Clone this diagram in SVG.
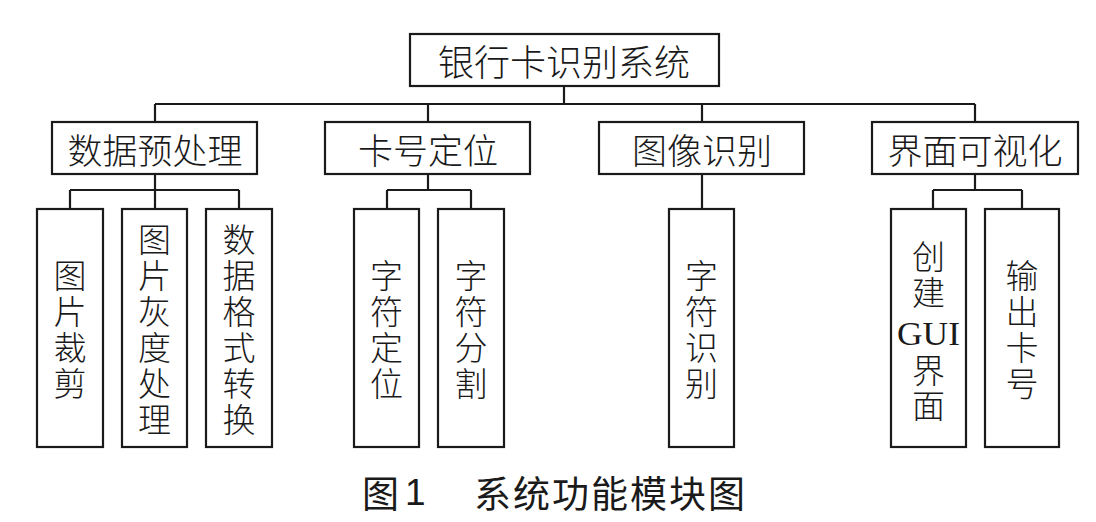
<svg xmlns="http://www.w3.org/2000/svg" width="1096" height="522" viewBox="0 0 1096 522">
<style>
  .box{fill:#fff;stroke:#1a1a1a;stroke-width:2.2}
  .ln{fill:none;stroke:#1a1a1a;stroke-width:2.2}
  .t{font-family:"Noto Sans CJK SC","Noto Sans",sans-serif;font-weight:300;fill:#1a1a1a;text-anchor:middle;dominant-baseline:central}
  .r{font-size:36px}
  .m{font-size:35px}
  .v{font-family:"Noto Sans CJK SC","Noto Sans",sans-serif;font-weight:300;fill:#1a1a1a;font-size:33px;writing-mode:vertical-rl;text-anchor:middle;letter-spacing:3px}
  .g{font-family:"Liberation Serif",serif;font-size:34px;fill:#1a1a1a;text-anchor:middle;dominant-baseline:central}
  .cap{font-family:"Noto Sans CJK SC","Noto Sans",sans-serif;font-size:37px;fill:#1a1a1a;dominant-baseline:central}
</style>
<rect width="1096" height="522" fill="#fff"/>
<g id="connectors">
  <path class="ln" d="M564 86V104M155 104H975M155 104V122M428 104V122M702 104V122M975 104V122"/>
  <path class="ln" d="M155 174V190M70 190H239M70 190V209M155 190V209M239 190V209"/>
  <path class="ln" d="M428 174V190M387 190H471M387 190V209M471 190V209"/>
  <path class="ln" d="M702 174V209"/>
  <path class="ln" d="M975 174V190M933 190H1022M933 190V209M1022 190V209"/>
</g>
<g id="root">
  <rect class="box" x="410" y="34" width="309" height="52"/>
  <text class="t r" x="564" y="60">银行卡识别系统</text>
</g>
<g id="n-preprocess">
  <rect class="box" x="52" y="122" width="205" height="52"/>
  <text class="t m" x="155" y="148">数据预处理</text>
</g>
<g id="n-locate">
  <rect class="box" x="325" y="122" width="205" height="52"/>
  <text class="t m" x="428" y="148">卡号定位</text>
</g>
<g id="n-recog">
  <rect class="box" x="599" y="122" width="205" height="52"/>
  <text class="t m" x="702" y="148">图像识别</text>
</g>
<g id="n-gui">
  <rect class="box" x="872" y="122" width="206" height="52"/>
  <text class="t m" x="975" y="148">界面可视化</text>
</g>
<g id="leaf-crop">
  <rect class="box" x="37" y="209" width="66" height="238"/>
  <text class="v" x="70" y="331">图片裁剪</text>
</g>
<g id="leaf-gray">
  <rect class="box" x="122" y="209" width="65" height="238"/>
  <text class="v" x="154.5" y="331">图片灰度处理</text>
</g>
<g id="leaf-format">
  <rect class="box" x="206" y="209" width="66" height="238"/>
  <text class="v" x="239" y="331">数据格式转换</text>
</g>
<g id="leaf-charloc">
  <rect class="box" x="354" y="209" width="65" height="238"/>
  <text class="v" x="386.5" y="331">字符定位</text>
</g>
<g id="leaf-charseg">
  <rect class="box" x="438" y="209" width="66" height="238"/>
  <text class="v" x="471" y="331">字符分割</text>
</g>
<g id="leaf-charrec">
  <rect class="box" x="669" y="209" width="65" height="238"/>
  <text class="v" x="701.5" y="331">字符识别</text>
</g>
<g id="leaf-creategui">
  <rect class="box" x="891" y="209" width="75" height="238"/>
  <text class="v" x="928.5" y="276">创建</text>
  <text class="g" x="928.5" y="333" textLength="63" lengthAdjust="spacingAndGlyphs">GUI</text>
  <text class="v" x="928.5" y="389" style="letter-spacing:2px">界面</text>
</g>
<g id="leaf-output">
  <rect class="box" x="985" y="209" width="74" height="238"/>
  <text class="v" x="1022" y="331">输出卡号</text>
</g>
<g id="caption">
  <text class="cap" x="362" y="492">图</text>
  <text class="cap" x="405" y="492" style="font-family:'Liberation Sans',sans-serif">1</text>
  <text class="cap" x="474" y="492" letter-spacing="2">系统功能模块图</text>
</g>
</svg>
